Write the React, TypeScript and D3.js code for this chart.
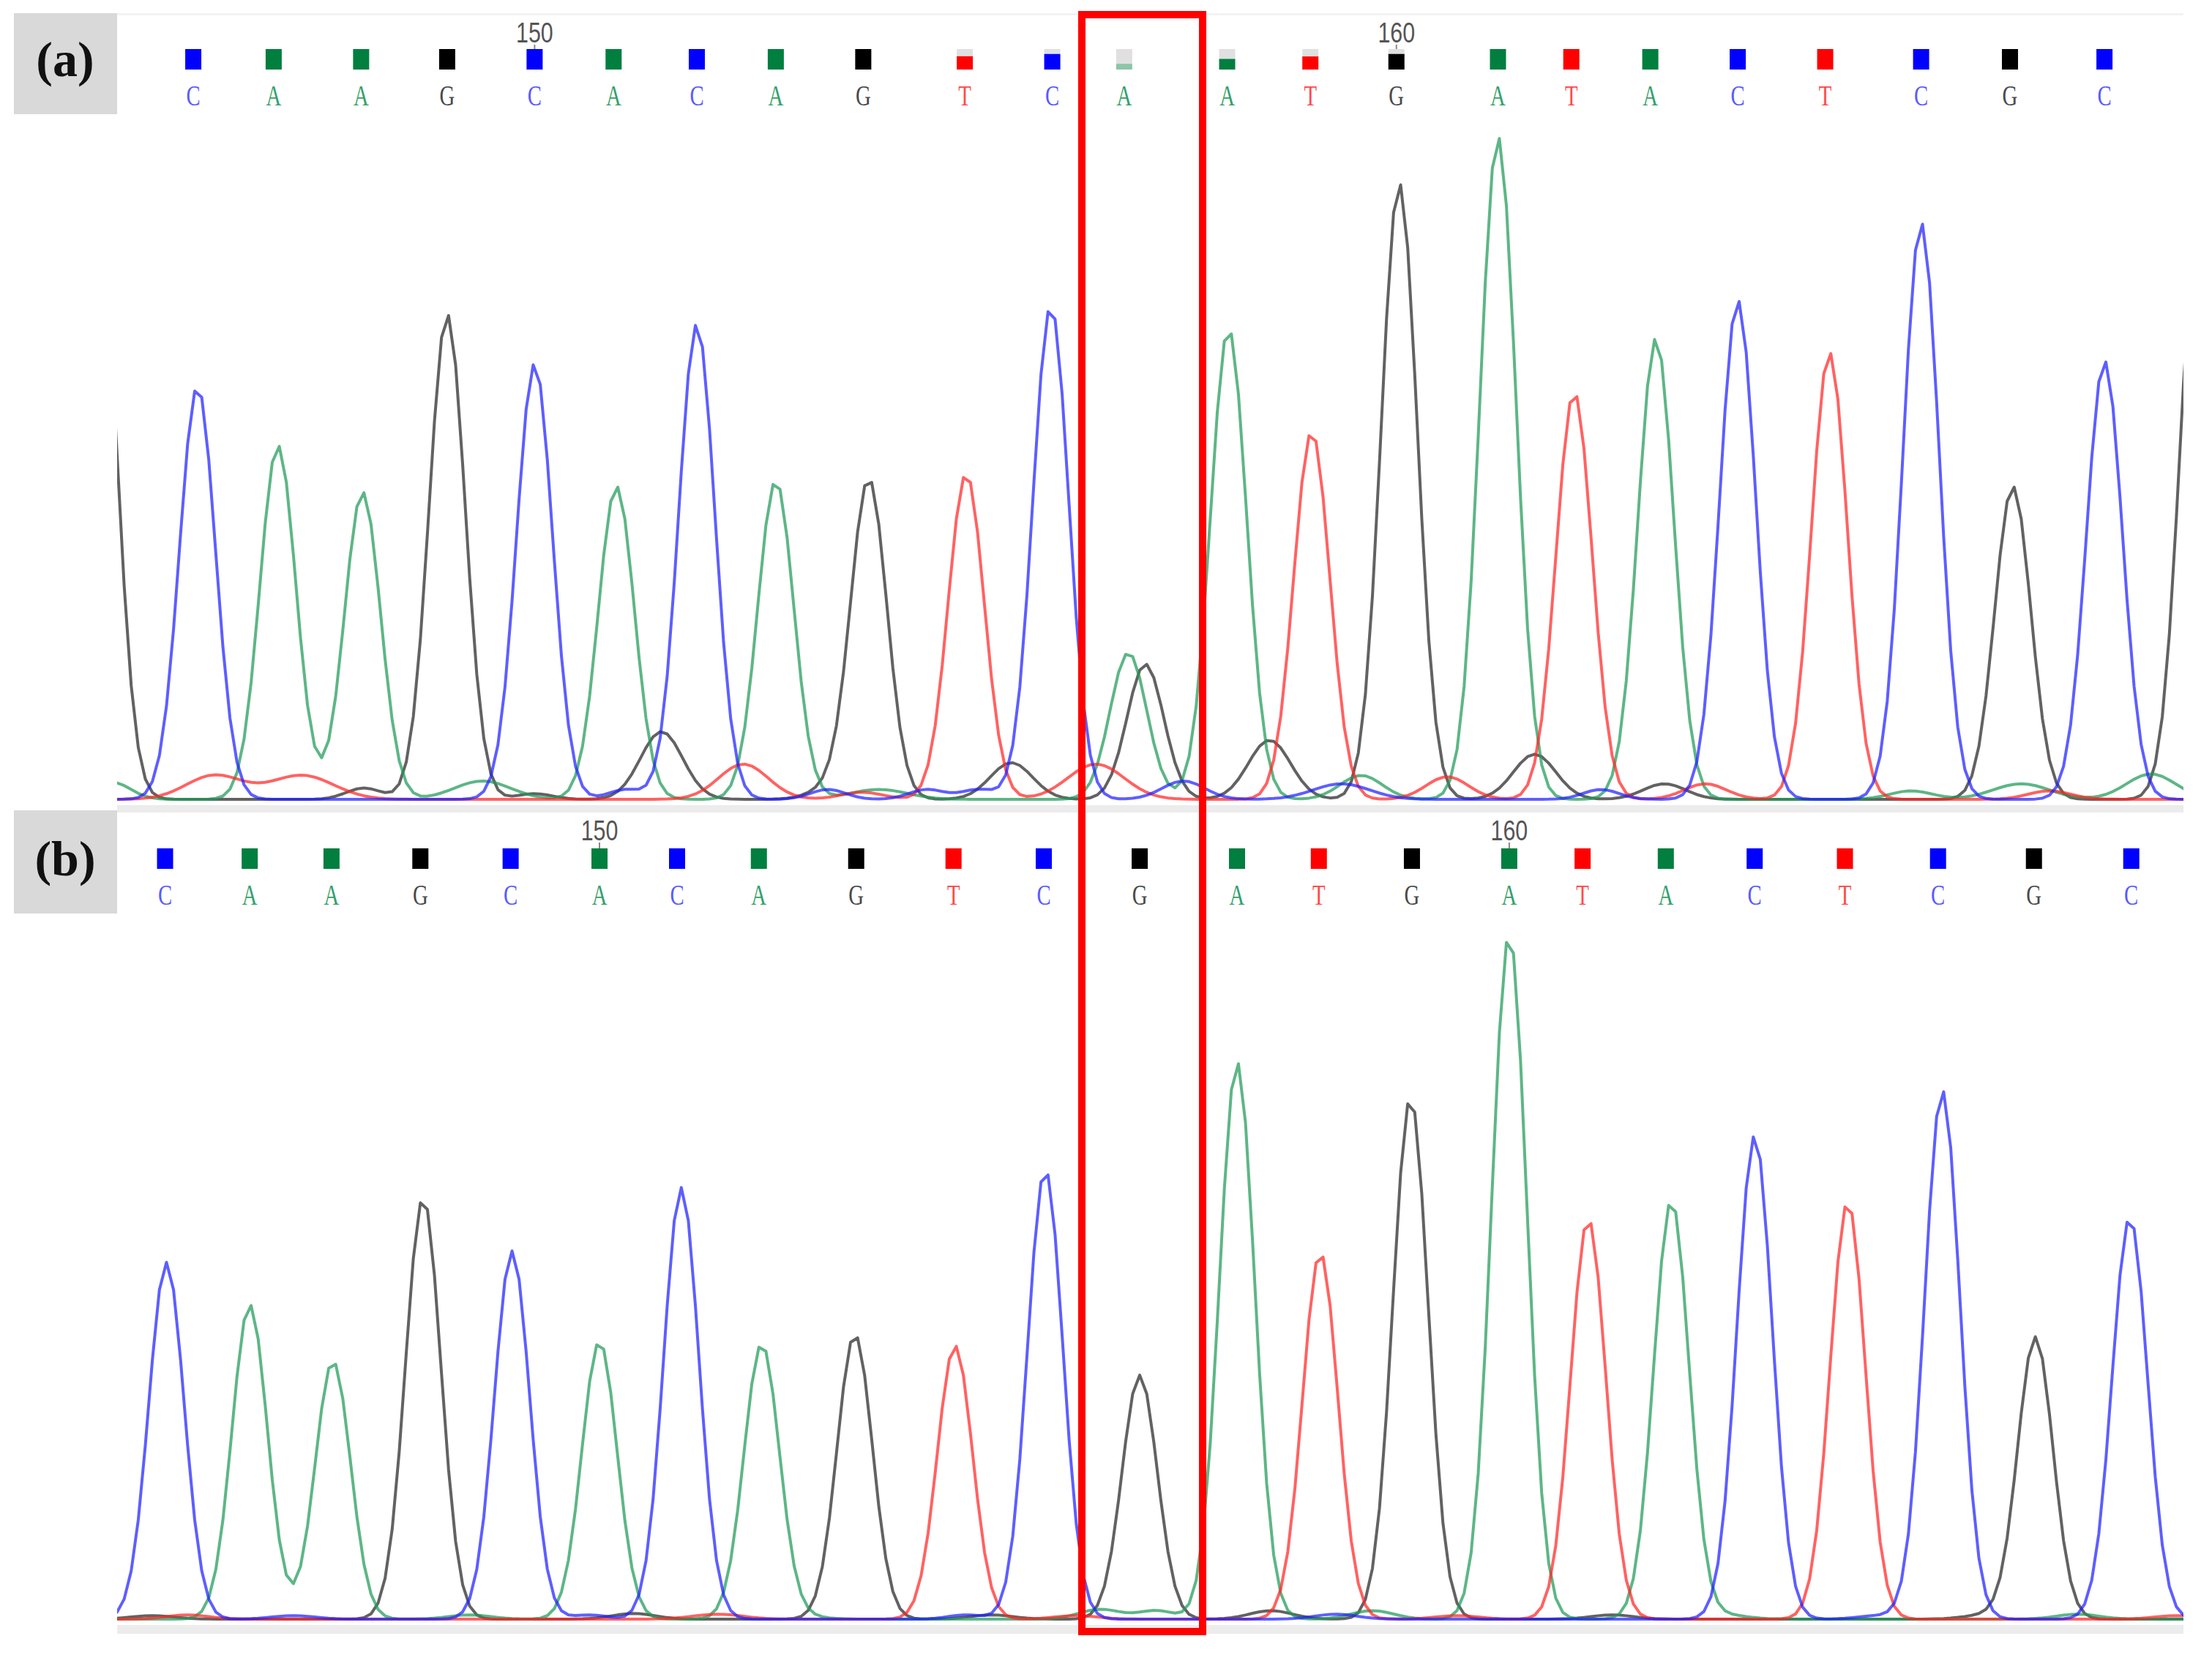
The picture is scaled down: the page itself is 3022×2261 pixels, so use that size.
import React, { useEffect } from 'react';
import * as d3 from 'd3';

// ---------- DATA ----------
// Panel (a): heterozygous sample
const aCalls = ['C','A','A','G','C','A','C','A','G','T','C','A','A','T','G','A','T','A','C','T','C','G','C'];
const aCallScan = [10.8,22.2,34.6,46.8,59.2,70.4,82.2,93.4,105.8,120.2,132.6,142.8,157.4,169.2,181.4,195.8,206.2,217.4,229.8,242.2,255.8,268.4,281.8];
const aCallQuality = [1,1,1,1,1,1,1,1,1,0.65,0.76,0.28,0.52,0.64,0.76,1,1,1,1,1,1,1,1];
const aFirstBase = 146;

const aPeakBase = ['G','C','A','A','G','C','A','C','A','G','T','C','A','G','A','T','G','A','T','A','C','T','C','G','C','G',
  'T','T','G','A','G','C','G','T','C','G','A','T','C','C','G','T','C','G','C','A','T','G','C','G','T','A','T','A','A','A'];
const aPeakScan = [-2.6,11.4,22.8,34.8,46.8,59.2,70.8,82.2,93.4,106.6,120.4,132.4,143.4,145.8,157.6,169.4,181.8,195.8,206.6,218.2,229.8,242.8,255.8,268.8,281.8,295,
  13.8,26.2,35,51.8,59.2,72.2,77.2,88.8,100.8,101.4,108,105.6,114.8,122.2,126.8,138.8,151.2,163.4,173.6,176.4,188.6,201,210.4,219.4,225.2,254.4,274,270,288.4,-0.6];
const aPeakHeight = [1640,1172,1004,872,1376,1236,888,1348,904,904,924,1400,416,384,1336,1044,1748,1880,1156,1308,1416,1268,1636,888,1244,1600,
  68,68,32,52,16,28,192,100,28,32,28,20,28,28,104,100,52,168,44,68,64,128,28,44,44,24,24,44,72,48];
const aPeakWidth = [2.55,2.55,2.55,2.55,2.55,2.55,2.55,2.55,2.55,2.55,2.55,2.55,2.6,2.6,2.55,2.55,2.55,2.55,2.55,2.55,2.55,2.55,2.55,2.55,2.55,2.55,
  4,4.5,2.5,4,2.5,2.5,3,3.5,2.5,3,4,3,2.5,2.5,3,4,3,3,4,3,3,3,2.5,3,3,3,3,4,3.5,2.5];

// Panel (b): homozygous sample
const bCalls = ['C','A','A','G','C','A','C','A','G','T','C','G','A','T','G','A','T','A','C','T','C','G','C'];
const bCallScan = [6.8,18.8,30.4,43,55.8,68.4,79.4,91,104.8,118.6,131.4,145,158.8,170.4,183.6,197.4,207.8,219.6,232.2,245,258.2,271.8,285.6];
const bCallQuality = [1,1,1,1,1,1,1,1,1,1,1,1,1,1,1,1,1,1,1,1,1,1,1];
const bFirstBase = 145;

const bPeakBase = ['C','A','A','G','C','A','C','A','G','T','C','G','A','T','G','A','T','A','C','T','C','G','C',
  'T','G','C','A','C','G','T','A','C','G','A','T','A','G','C','A','T','G','A','C','G','A','T'];
const bPeakScan = [7,18.8,30.6,43.4,56,68.4,80,91.4,104.6,118.8,131.6,145,158.8,170.6,183.4,197.4,208.6,220.4,232.2,245.4,258.8,272,285.4,
  10,5,25,50,67,73.2,85.2,97,120.4,124,139.4,136,147.4,163.6,172.8,178,190,212,228,250,265,278,292];
const bPeakHeight = [1012,892,732,1196,1044,788,1224,780,808,776,1276,692,1580,1040,1480,1944,1136,1188,1372,1184,1500,800,1140,
  12,10,10,12,12,16,14,8,12,12,28,10,24,24,14,24,10,12,12,10,12,14,10];
const bPeakWidth = [2.5,2.5,2.5,2.5,2.5,2.5,2.5,2.5,2.5,2.5,2.5,2.5,2.5,2.5,2.5,2.5,2.5,2.5,2.5,2.5,2.5,2.5,2.5,
  3,3,3,3,2.5,3,3.5,3,2.5,3,3,3,2.5,3,3,3,3,3,3,3,3,3,3];

const CHANNELS = ['G', 'A', 'T', 'C'];
const TICK_EVERY = 10;

// ---------- STYLE ----------
const TRACE_COLOR: Record<string, string> = { A: '#1f9a58', C: '#2020ff', G: '#262626', T: '#ff2626' };
const BOX_COLOR: Record<string, string> = { A: '#007f3f', C: '#0000ff', G: '#000000', T: '#ff0000' };
const LETTER_COLOR: Record<string, string> = { A: '#35a06a', C: '#5a5aff', G: '#4a4a4a', T: '#ff4a4a' };

const W = 3022;
const H = 2261;
const X0 = 160;
const X1 = 2983;
const SCAN_MAX = 293;

type PanelProps = {
  id: string;
  label: string;
  calls: string[];
  callScan: number[];
  quality: number[];
  firstBase: number;
  peakBase: string[];
  peakScan: number[];
  peakHeight: number[];
  peakWidth: number[];
  boxY: number;
  boxH: number;
  labelBaseline: number;
  numberBaseline: number;
  squareY: number;
  letterBaseline: number;
  baseline: number;
  bandH: number;
};

function Panel(p: PanelProps) {
  const x = d3.scaleLinear().domain([0, SCAN_MAX]).range([X0, X1]);
  const y = d3.scaleLinear().domain([0, 2000]).range([p.baseline, p.baseline - 963.5]);
  const scans = d3.range(-8, SCAN_MAX + 8, 1);
  const line = d3.line<[number, number]>().x(d => x(d[0])).y(d => y(d[1])).curve(d3.curveLinear);

  const traces = CHANNELS.map(ch => {
    const idx = p.peakBase.map((b, i) => (b === ch ? i : -1)).filter(i => i >= 0);
    const pts: [number, number][] = scans.map(s => {
      let v = 0;
      idx.forEach(i => {
        const d = (s - p.peakScan[i]) / p.peakWidth[i];
        v += p.peakHeight[i] * Math.exp(-0.5 * d * d);
      });
      return [s, v];
    });
    return { ch, d: line(pts) as string };
  });

  const sqW = 22;
  const sqH = 28;

  return (
    <g>
      <defs>
        <clipPath id={`clip-${p.id}`}>
          <rect x={X0} y={p.boxY - 10} width={X1 - X0} height={p.baseline - p.boxY + 14} />
        </clipPath>
      </defs>
      {/* label box */}
      <rect x={19} y={p.boxY} width={141} height={p.boxH} fill="#d9d9d9" />
      <text x={89} y={p.labelBaseline} textAnchor="middle" fontFamily="'Liberation Serif', 'Times New Roman', serif"
        fontWeight="bold" fontSize={68} fill="#111">{p.label}</text>
      {/* gray band under the baseline */}
      <rect x={X0} y={p.baseline + 8} width={X1 - X0} height={p.bandH} fill="#ececec" />
      {/* position numbers */}
      {p.calls.map((c, i) => ((p.firstBase + i) % TICK_EVERY === 0 ? (
        <g key={`n${i}`}>
          <text transform={`translate(${x(p.callScan[i])},${p.numberBaseline}) scale(0.8,1)`} textAnchor="middle"
            fontFamily="'Liberation Sans', Arial, sans-serif" fontSize={38} fill="#555">{p.firstBase + i}</text>
          <line x1={x(p.callScan[i])} x2={x(p.callScan[i])} y1={p.numberBaseline + 3} y2={p.squareY} stroke="#888" strokeWidth={2} />
        </g>
      ) : null))}
      {/* call squares with quality bars */}
      {p.calls.map((c, i) => {
        const cx = x(p.callScan[i]);
        const q = p.quality[i];
        return (
          <g key={`s${i}`}>
            {q < 1 && <rect x={cx - sqW / 2} y={p.squareY} width={sqW} height={sqH * (1 - q)} fill="#e0e0e0" />}
            <rect x={cx - sqW / 2} y={p.squareY + sqH * (1 - q)} width={sqW} height={sqH * q} fill={BOX_COLOR[c]} opacity={q < 0.4 ? 0.45 : 1} />
          </g>
        );
      })}
      {/* call letters */}
      {p.calls.map((c, i) => (
        <text key={`l${i}`} transform={`translate(${x(p.callScan[i])},${p.letterBaseline}) scale(0.72,1)`} textAnchor="middle"
          fontFamily="'Liberation Serif', 'Times New Roman', serif" fontSize={40} fill={LETTER_COLOR[c]}>{c}</text>
      ))}
      {/* traces */}
      <g clipPath={`url(#clip-${p.id})`}>
        {traces.map(t => (
          <path key={t.ch} d={t.d} fill="none" stroke={TRACE_COLOR[t.ch]} strokeWidth={4}
            strokeOpacity={0.72} strokeLinejoin="round" />
        ))}
      </g>
    </g>
  );
}

export default function App() {
  useEffect(() => {
    document.body.style.margin = '0';
  }, []);
  return (
    <svg width={W} height={H} viewBox={`0 0 ${W} ${H}`} style={{ display: 'block', position: 'absolute', left: 0, top: 0, background: '#fff' }}>
      <rect x={0} y={0} width={W} height={H} fill="#fff" />
      <rect x={X0} y={18} width={X1 - X0} height={3} fill="#f3f3f3" />
      <Panel id="a" label="(a)" calls={aCalls} callScan={aCallScan} quality={aCallQuality} firstBase={aFirstBase}
        peakBase={aPeakBase} peakScan={aPeakScan} peakHeight={aPeakHeight} peakWidth={aPeakWidth}
        boxY={18} boxH={138} labelBaseline={104} numberBaseline={58} squareY={67} letterBaseline={144}
        baseline={1092} bandH={10} />
      <Panel id="b" label="(b)" calls={bCalls} callScan={bCallScan} quality={bCallQuality} firstBase={bFirstBase}
        peakBase={bPeakBase} peakScan={bPeakScan} peakHeight={bPeakHeight} peakWidth={bPeakWidth}
        boxY={1107} boxH={141} labelBaseline={1196} numberBaseline={1148} squareY={1159} letterBaseline={1236}
        baseline={2212} bandH={12} />
      {/* highlight box around the variant position */}
      <rect x={1478} y={20} width={165} height={2209} fill="none" stroke="#ff0000" strokeWidth={10} />
    </svg>
  );
}
